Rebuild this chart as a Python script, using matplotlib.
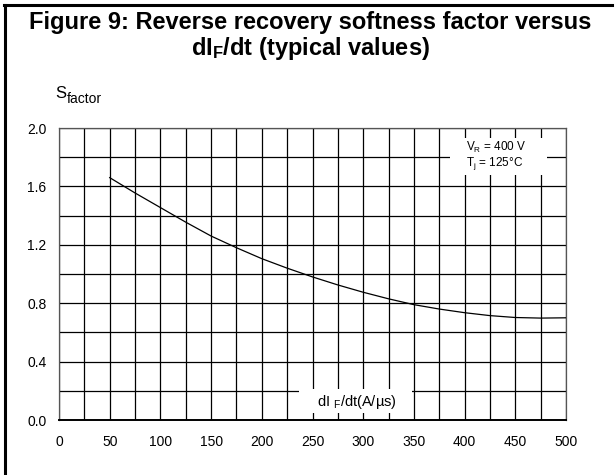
import matplotlib
matplotlib.use("Agg")
import matplotlib.pyplot as plt
from matplotlib.lines import Line2D
from matplotlib.patches import Rectangle
import numpy as np

plt.rcParams['font.family'] = ['Liberation Sans', 'DejaVu Sans']
plt.rcParams['mathtext.fontset'] = 'custom'
plt.rcParams['mathtext.rm'] = 'Liberation Sans'
plt.rcParams['mathtext.it'] = 'Liberation Sans:italic'
plt.rcParams['mathtext.bf'] = 'Liberation Sans:bold'

# curve
di_dt = [50, 75, 100, 125, 150, 175, 200, 225, 250, 275, 300, 325, 350,
         375, 400, 425, 450, 475, 500]
s_factor = [1.66, 1.555, 1.455, 1.355, 1.26, 1.18, 1.105, 1.04, 0.98, 0.925,
            0.875, 0.83, 0.79, 0.76, 0.735, 0.715, 0.702, 0.698, 0.70]

x_ticks = [0, 50, 100, 150, 200, 250, 300, 350, 400, 450, 500]
y_ticks = [0.0, 0.4, 0.8, 1.2, 1.6, 2.0]

title = "Figure 9: Reverse recovery softness factor versus\ndI$_\\mathbf{F}$/dt (typical values)"

W, H = 615, 475
fig = plt.figure(figsize=(W / 100, H / 100), dpi=100)

# outer frame (left and top only)
fig.add_artist(Line2D([4.5 / W, 4.5 / W], [0, 1 - 4.5 / H], color="black", lw=2.2))
fig.add_artist(Line2D([3.5 / W, 612 / W], [1 - 4.5 / H, 1 - 4.5 / H], color="black", lw=2.2))

fig.text(0.505, 1 - 36 / H, title, ha="center", va="center", fontsize=17,
         fontweight="bold", linespacing=1.05)
fig.text(55 / W, 1 - 94 / H, "S", ha="left", va="center", fontsize=12)
fig.text(67 / W, 1 - 99 / H, "factor", ha="left", va="center", fontsize=10)

ax = fig.add_axes([59 / W, 1 - 420 / H, (566 - 59) / W, (420 - 128) / H])
ax.set_xlim(0, 500)
ax.set_ylim(0, 2.0)
ax.set_xticks(np.arange(0, 501, 25), minor=True)
ax.set_yticks(np.arange(0, 2.01, 0.2), minor=True)
ax.set_xticks(x_ticks)
ax.set_yticks(y_ticks)
ax.set_yticklabels([f"{v:.1f}" for v in y_ticks])
ax.grid(which="both", color="black", lw=0.9)
ax.tick_params(which="both", length=0, labelsize=10)
ax.tick_params(axis="x", pad=11)
ax.tick_params(axis="y", pad=9)
for sp in ["top", "right", "left"]:
    ax.spines[sp].set_linewidth(0.9)
    ax.spines[sp].set_color("#555555")
ax.spines["bottom"].set_linewidth(1.4)
ax.set_axisbelow(True)

ax.plot(di_dt, s_factor, color="black", lw=0.9, zorder=4)

# white patches behind the labels inside the grid
ax.add_patch(Rectangle((386, 1.68), 95, 0.25, facecolor="white", edgecolor="none", zorder=3))
ax.add_patch(Rectangle((237, 0.048), 111, 0.165, facecolor="white", edgecolor="none", zorder=3))

ax.text(401, 1.87, "V$_\\mathrm{R}$ = 400 V", fontsize=8.5, ha="left", va="center", zorder=5)
ax.text(401, 1.76, "T$_\\mathrm{j}$ = 125°C", fontsize=8.5, ha="left", va="center", zorder=5)
ax.text(294, 0.12, "dI $_\\mathrm{F}$/dt(A/µs)", fontsize=10.5, ha="center", va="center", zorder=5)

fig.savefig("out.png", dpi=100)
